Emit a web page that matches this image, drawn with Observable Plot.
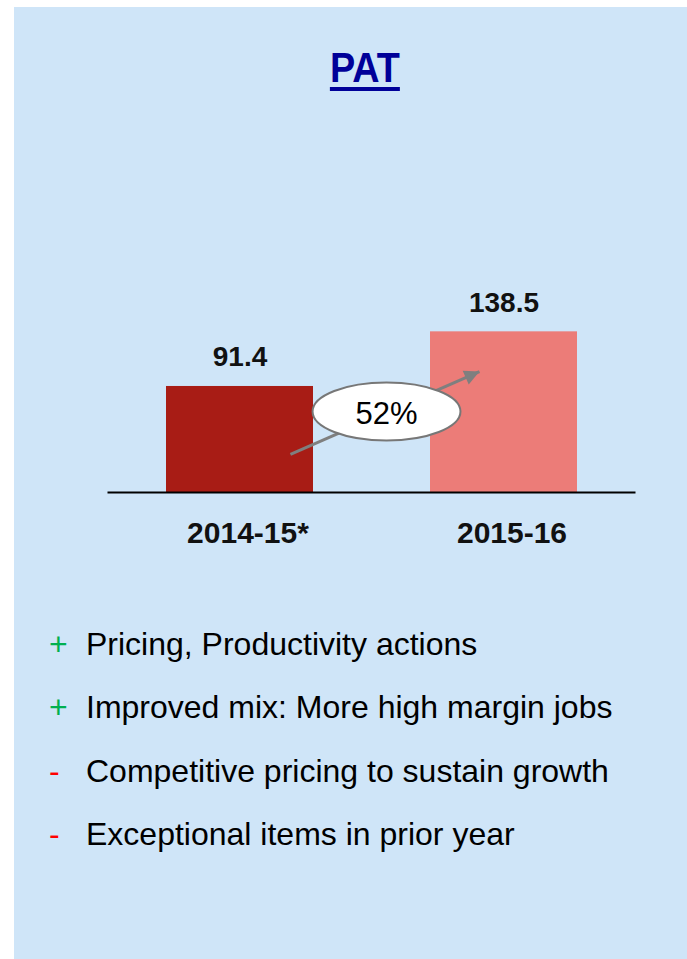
<!DOCTYPE html>
<html><head><meta charset="utf-8">
<script src="https://cdn.jsdelivr.net/npm/d3@7"></script>
<script src="https://cdn.jsdelivr.net/npm/@observablehq/plot@0.6"></script>
<style>
html,body{margin:0;padding:0;background:#fff;width:687px;height:959px;overflow:hidden;font-family:"Liberation Sans",Arial,sans-serif;}
#panel{position:absolute;left:14px;top:7px;width:673px;height:952px;background:#CFE5F8;}
#title{position:absolute;left:264.5px;top:47px;width:200px;text-align:center;font-size:42px;line-height:42px;font-weight:bold;color:#000099;}
#title span{display:inline-block;transform:scaleX(0.9);text-decoration:underline;text-decoration-thickness:4px;text-underline-offset:5px;}
#chart{position:absolute;left:0;top:150px;}
.bullet{position:absolute;left:0;width:687px;height:32px;font-size:32px;line-height:32px;color:#000;white-space:nowrap;}
.bullet .sign{position:absolute;left:49px;top:0;}
.bullet .txt{position:absolute;left:86px;top:0;}
</style>
</head>
<body>
<div id="panel"></div>
<div id="title"><span>PAT</span></div>
<div id="chart"></div>
<div id="bullets"></div>
<script>
// ---- data ----
const categories = ["2014-15*", "2015-16"];
const patValues = [91.4, 138.5];
const barColors = ["#A81C15", "#EC7C78"];
const bulletSigns = ["+", "+", "-", "-"];
const bulletColors = ["#00B050", "#00B050", "#FF0000", "#FF0000"];
const bulletTexts = [
  "Pricing, Productivity actions",
  "Improved mix: More high margin jobs",
  "Competitive pricing to sustain growth",
  "Exceptional items in prior year"
];

const rows = categories.map((c, i) => ({i, category: c, value: patValues[i]}));
const growth = Math.round((patValues[1] / patValues[0] - 1) * 100);

// annotation (data coordinates: x = category index, y = value)
const growthArrow = [{x1: 0.191, y1: 32.8, x2: 0.907, y2: 104.3}];
const growthBubble = [{x: 0.555, y: 69.8, label: growth + "%"}];

const half = 0.2784;

const ellipseSymbol = {
  draw(ctx, size) {
    const ry = Math.sqrt(size / Math.PI), rx = ry * 2.55, k = 0.5523;
    ctx.moveTo(rx, 0);
    ctx.bezierCurveTo(rx, k * ry, k * rx, ry, 0, ry);
    ctx.bezierCurveTo(-k * rx, ry, -rx, k * ry, -rx, 0);
    ctx.bezierCurveTo(-rx, -k * ry, -k * rx, -ry, 0, -ry);
    ctx.bezierCurveTo(k * rx, -ry, rx, -k * ry, rx, 0);
    ctx.closePath();
  }
};
const headAngle = Math.atan2(-83, 189);
const headSymbol = {
  draw(ctx) {
    const L = 15, w = 7.5, c = Math.cos(headAngle), s = Math.sin(headAngle);
    const bx = -L * c, by = -L * s;
    ctx.moveTo(0, 0);
    ctx.lineTo(bx - w * s, by + w * c);
    ctx.lineTo(bx + w * s, by - w * c);
    ctx.closePath();
  }
};

const plot = Plot.plot({
  width: 687, height: 420,
  marginLeft: 107.5, marginRight: 51.5, marginTop: 110, marginBottom: 78,
  x: {domain: [-0.5, 1.5], axis: null},
  y: {domain: [0, 200], axis: null},
  color: {type: "identity"},
  style: {background: "transparent", fontFamily: "'Liberation Sans', Arial, sans-serif", overflow: "visible"},
  marks: [
    Plot.rect(rows, {x1: d => d.i - half, x2: d => d.i + half, y1: 0, y2: "value", fill: d => barColors[d.i]}),
    Plot.ruleY([0], {stroke: "#000", strokeWidth: 2}),
    Plot.text(rows, {x: "i", y: "value", text: d => d.value.toFixed(1), lineAnchor: "bottom", dy: -20, fontSize: 28, fontWeight: "bold", fill: "#111"}),
    Plot.text(rows, {x: "i", y: 0, text: "category", lineAnchor: "bottom", dy: 50, dx: 8, fontSize: 30, fontWeight: "bold", fill: "#111"}),
    Plot.link(growthArrow, {x1: "x1", y1: "y1", x2: "x2", y2: "y2", stroke: "#7F7F7F", strokeWidth: 3}),
    Plot.dot(growthArrow, {x: "x2", y: "y2", r: 1, symbol: headSymbol, fill: "#7F7F7F", stroke: "none"}),
    Plot.dot(growthBubble, {x: "x", y: "y", r: 29, symbol: ellipseSymbol, fill: "white", stroke: "#777777", strokeWidth: 2}),
    Plot.text(growthBubble, {x: "x", y: "y", text: "label", dy: 3, fontSize: 31, fill: "#000"})
  ]
});
document.getElementById("chart").appendChild(plot);

const bl = document.getElementById("bullets");
bulletTexts.forEach((t, i) => {
  const baseline = 655 + i * 63.3;
  const div = document.createElement("div");
  div.className = "bullet";
  div.style.top = (baseline - 27.1) + "px";
  const s = document.createElement("span");
  s.className = "sign"; s.textContent = bulletSigns[i]; s.style.color = bulletColors[i];
  const tx = document.createElement("span");
  tx.className = "txt"; tx.textContent = t;
  div.appendChild(s); div.appendChild(tx);
  bl.appendChild(div);
});
</script>
</body></html>
